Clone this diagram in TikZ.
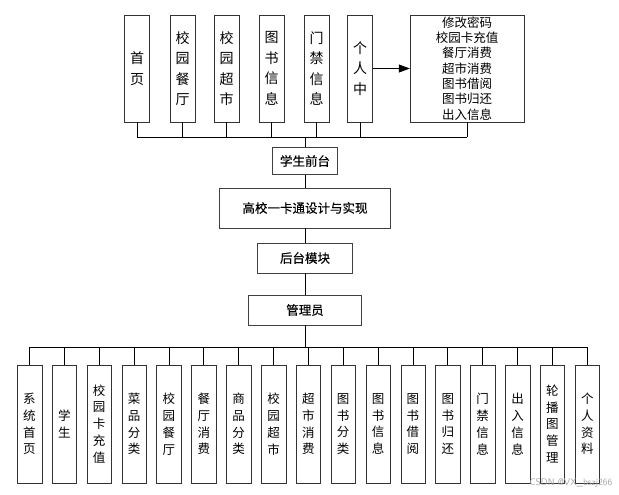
\documentclass[tikz,border=0pt]{standalone}
\usepackage{fontspec}
\newfontfamily\cjk{Noto Sans CJK SC}
\newfontfamily\cjkmid[FakeBold=0.3]{Noto Sans CJK SC}
\usetikzlibrary{arrows.meta,positioning}
\begin{document}
\begin{tikzpicture}[x=1pt,y=-1pt,>={Triangle[length=11pt,width=8pt]}]
            \tikzstyle{topcol}=[rectangle,draw=black!80,fill=white,minimum width=25pt,minimum height=107pt,inner sep=0pt,align=center,font=\cjk\fontsize{14}{20.5}\selectfont]
            \tikzstyle{botcol}=[rectangle,draw=black!80,fill=white,minimum width=24.5pt,minimum height=118pt,inner sep=0pt,align=center,font=\cjk\fontsize{12.5}{16.8}\selectfont]
            \tikzstyle{module}=[rectangle,draw=black!75,fill=white,minimum height=27pt,inner sep=0pt,font=\cjkmid\fontsize{12.5}{15}\selectfont]
            \tikzstyle{link}=[draw=black,line width=0.8pt]
            \useasboundingbox (0,0) rectangle (619,495);

            % student front end
            \node [topcol] (sy) at (137,68.5)   {首\\页};
            \node [topcol] (ct) at (182.5,68.5) {校\\园\\餐\\厅};
            \node [topcol] (cs) at (226.5,68.5) {校\\园\\超\\市};
            \node [topcol] (ts) at (271.5,68.5) {图\\书\\信\\息};
            \node [topcol] (mj) at (316.5,68.5) {门\\禁\\信\\息};
            \node [topcol] (gr) at (360,68.5)   {个\\人\\中};
            \node [rectangle,draw=black!80,fill=white,minimum width=114pt,minimum height=107pt,inner sep=0pt,align=center,
                   font=\cjk\fontsize{12.5}{15.3}\selectfont] (gx) at (467,68.5)
                  {修改密码\\校园卡充值\\餐厅消费\\超市消费\\图书借阅\\图书归还\\出入信息};
            \draw [link,->] (gr.east) -- (gx.west);

            \node [module, minimum width=65pt]  (qt) at (305,161) {学生前台};
            \node [module, minimum width=171pt, minimum height=40pt] (xt) at (305,208) {高校一卡通设计与实现};
            \node [module, minimum width=95pt, minimum height=30pt]  (ht) at (305,258) {后台模块};
            \node [module, minimum width=113pt, minimum height=30pt] (gl) at (305,310) {管理员};

            \coordinate (tb) at (305,137);
            \foreach \n in {sy,ct,cs,ts,mj,gr,gx}
                \draw [link] (\n.south) -- (\n.south |- tb);
            \draw [link] (sy.south |- tb) -- (gx.south |- tb);
            \draw [link] (tb) -- (qt.north);
            \draw [link] (qt.south) -- (xt.north);
            \draw [link] (xt.south) -- (ht.north);
            \draw [link] (ht.south) -- (gl.north);

            % admin back end
            \coordinate (bb) at (305,347);
            \foreach \i/\t in {0/系\\统\\首\\页, 1/学\\生, 2/校\\园\\卡\\充\\值, 3/菜\\品\\分\\类,
                               4/校\\园\\餐\\厅, 5/餐\\厅\\消\\费, 6/商\\品\\分\\类, 7/校\\园\\超\\市,
                               8/超\\市\\消\\费, 9/图\\书\\分\\类, 10/图\\书\\信\\息, 11/图\\书\\借\\阅,
                               12/图\\书\\归\\还, 13/门\\禁\\信\\息, 14/出\\入\\信\\息, 15/轮\\播\\图\\管\\理,
                               16/个\\人\\资\\料}
            {
                \node [botcol] (b\i) at ({29.5+34.86*\i},424) {\t};
                \draw [link] (b\i.north) -- (b\i.north |- bb);
            }
            \draw [link] (b0.north |- bb) -- (b16.north |- bb);
            \draw [link] (gl.south) -- (bb);

            \node [font=\fontsize{9.5}{10}\selectfont\sffamily, text=black!35, anchor=east] (wm) at (616,483) {CSDN @VX\_bszj266};
\end{tikzpicture}
\end{document}
